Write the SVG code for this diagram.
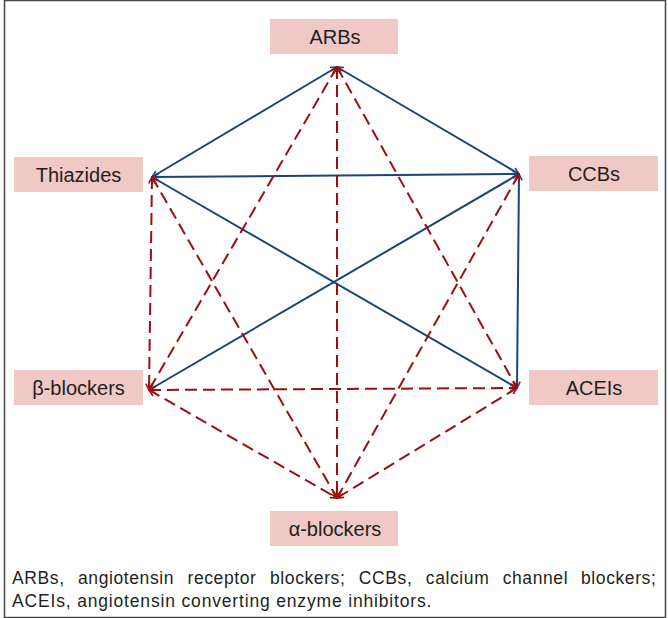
<svg xmlns="http://www.w3.org/2000/svg" width="668" height="618" viewBox="0 0 668 618">
<defs>
<style>
.box{fill:#f0c9c6}
.lbl{font-family:"Liberation Sans",Arial,sans-serif;font-size:20px;fill:#231f20;text-anchor:middle}
.blue{stroke:#1b4479;stroke-width:2;fill:none;marker-start:url(#ab);marker-end:url(#ab)}
.red{stroke:#9c0f0f;stroke-width:2;fill:none;stroke-dasharray:12 6;marker-start:url(#ar);marker-end:url(#ar)}
.foot{font-family:"Liberation Sans",Arial,sans-serif;font-size:17.5px;fill:#231f20;letter-spacing:0.6px}
</style>
<marker id="ab" viewBox="0 0 10 10" refX="9" refY="5" markerWidth="8" markerHeight="8" markerUnits="userSpaceOnUse" orient="auto-start-reverse">
<path d="M1,1 L9,5 L1,9" fill="none" stroke="#1b4479" stroke-width="2"/>
</marker>
<marker id="ar" viewBox="0 0 10 10" refX="9" refY="5" markerWidth="8" markerHeight="8" markerUnits="userSpaceOnUse" orient="auto-start-reverse">
<path d="M1,1 L9,5 L1,9" fill="none" stroke="#9c0f0f" stroke-width="2"/>
</marker>
</defs>
<rect x="0" y="0" width="668" height="618" fill="#ffffff"/>
<rect x="4.5" y="0.5" width="661" height="617" fill="none" stroke="#444" stroke-width="1.5"/>
<g id="connectors">
<line class="blue" x1="337" y1="67" x2="152" y2="177"/>
<line class="blue" x1="337" y1="67" x2="519" y2="174"/>
<line class="blue" x1="152" y1="177" x2="519" y2="174"/>
<line class="blue" x1="152" y1="177" x2="517" y2="388"/>
<line class="blue" x1="519" y1="174" x2="149" y2="390"/>
<line class="blue" x1="519" y1="174" x2="517" y2="388"/>
<line class="red" x1="337" y1="67" x2="149" y2="390"/>
<line class="red" x1="337" y1="67" x2="517" y2="388"/>
<line class="red" x1="337" y1="67" x2="337" y2="498"/>
<line class="red" x1="152" y1="177" x2="149" y2="390"/>
<line class="red" x1="152" y1="177" x2="337" y2="498"/>
<line class="red" x1="519" y1="174" x2="337" y2="498"/>
<line class="red" x1="149" y1="390" x2="517" y2="388"/>
<line class="red" x1="149" y1="390" x2="337" y2="498"/>
<line class="red" x1="517" y1="388" x2="337" y2="498"/>
</g>
<g id="arbs"><rect class="box" x="270" y="19" width="128" height="35"/><text class="lbl" x="335" y="44">ARBs</text></g>
<g id="thiazides"><rect class="box" x="14" y="157" width="129" height="35"/><text class="lbl" x="78.5" y="182">Thiazides</text></g>
<g id="ccbs"><rect class="box" x="529" y="156" width="129" height="35"/><text class="lbl" x="594" y="181">CCBs</text></g>
<g id="beta"><rect class="box" x="14" y="370" width="129" height="35"/><text class="lbl" x="78.5" y="395">β-blockers</text></g>
<g id="aceis"><rect class="box" x="529" y="370" width="129" height="35"/><text class="lbl" x="594" y="395">ACEIs</text></g>
<g id="alpha"><rect class="box" x="270" y="511" width="128" height="35"/><text class="lbl" x="335" y="536">α-blockers</text></g>
<text class="foot" y="584"><tspan x="12">ARBs,</tspan><tspan x="78">angiotensin</tspan><tspan x="187.5">receptor</tspan><tspan x="270">blockers;</tspan><tspan x="358.8">CCBs,</tspan><tspan x="425.8">calcium</tspan><tspan x="502.7">channel</tspan><tspan x="581">blockers;</tspan></text>
<text class="foot" x="12" y="607" textLength="420" lengthAdjust="spacing">ACEIs, angiotensin converting enzyme inhibitors.</text>
</svg>
